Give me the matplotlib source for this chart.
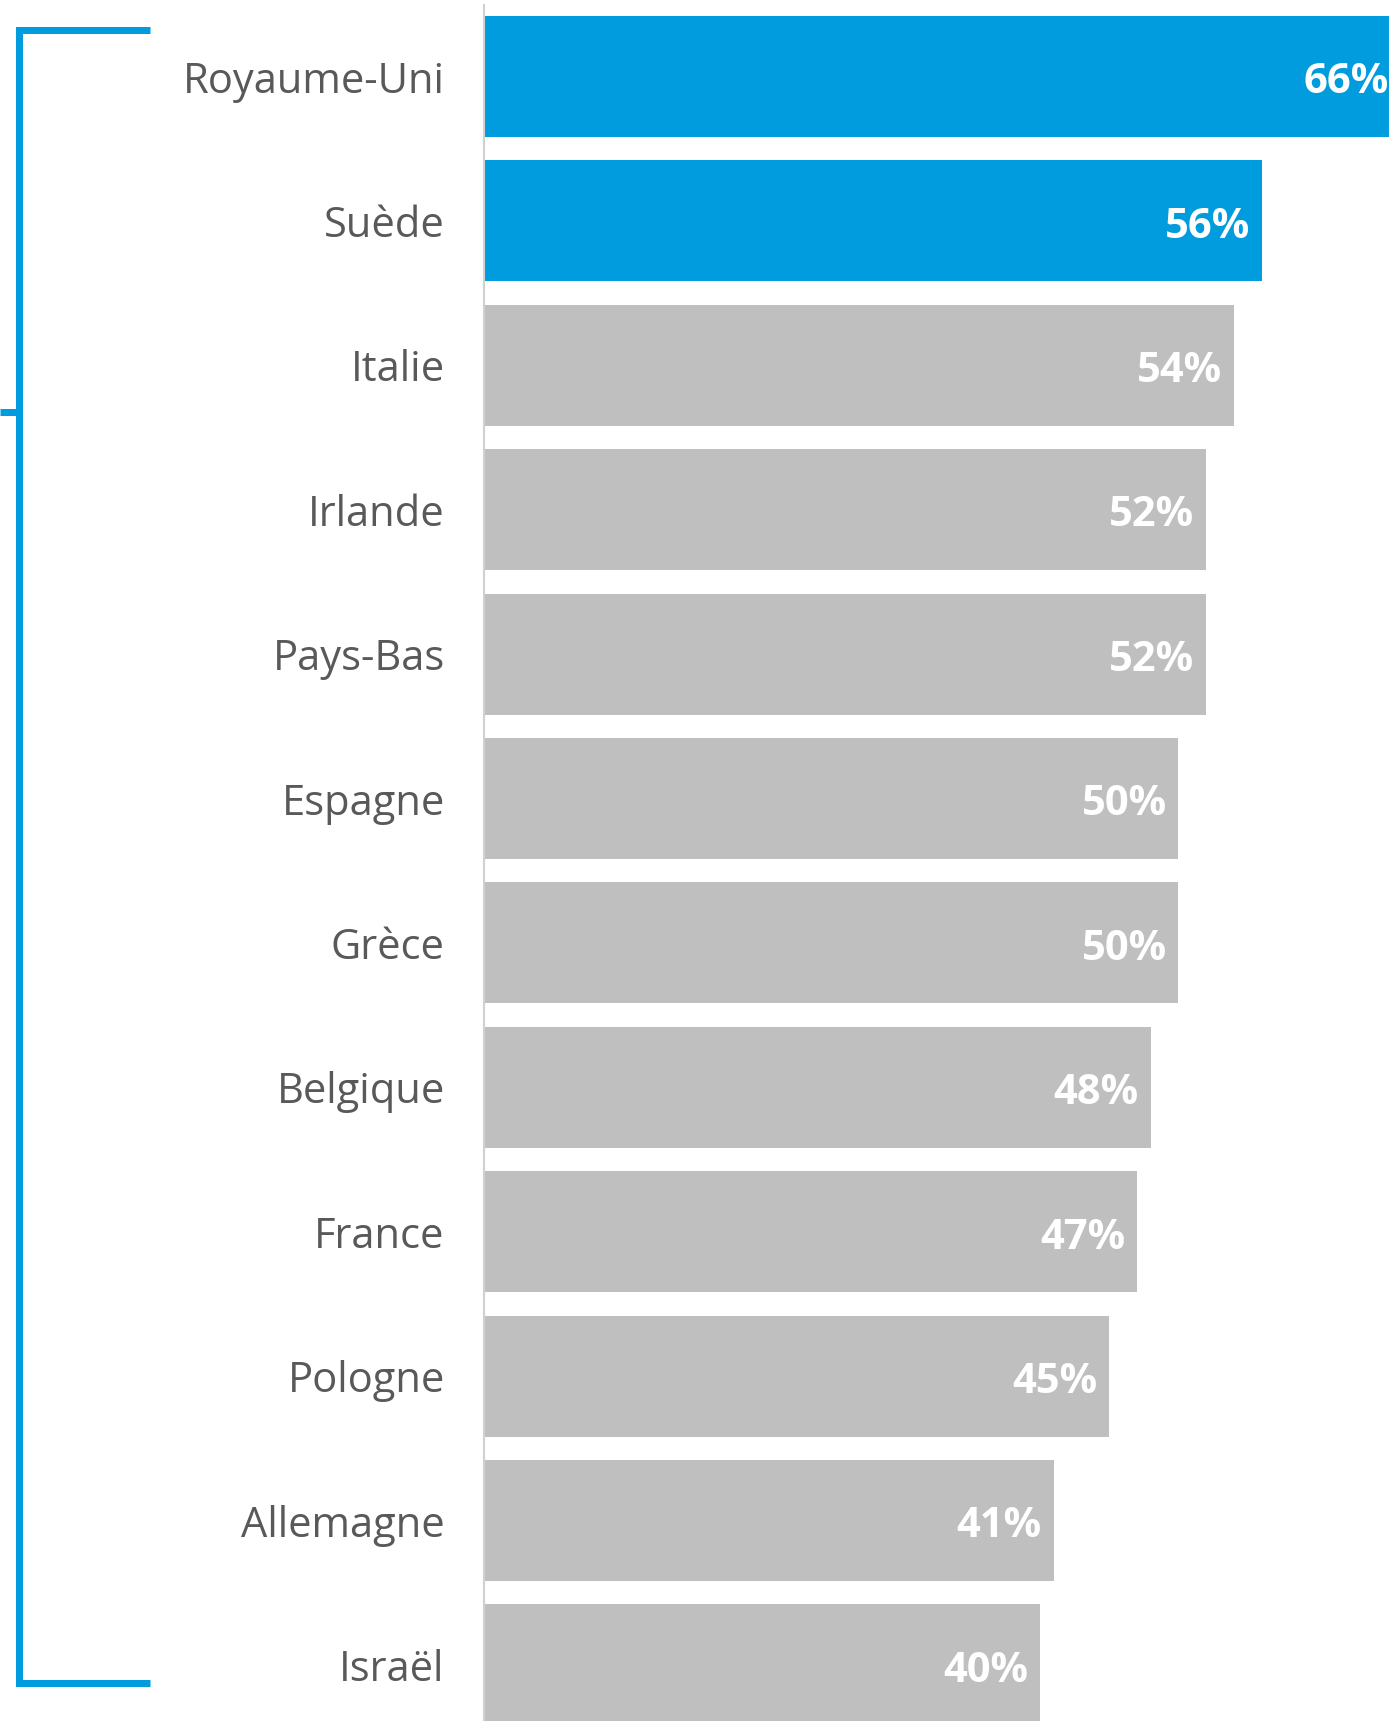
import matplotlib
matplotlib.use("Agg")
import matplotlib.pyplot as plt
from matplotlib.lines import Line2D
import numpy as np

# données
pays = ["Royaume-Uni", "Suède", "Italie", "Irlande", "Pays-Bas", "Espagne",
        "Grèce", "Belgique", "France", "Pologne", "Allemagne", "Israël"]
valeurs = [66, 56, 54, 52, 52, 50, 50, 48, 47, 45, 41, 40]
en_avant = ["Royaume-Uni", "Suède"]

BLEU = "#009cdd"
GRIS = "#bfbfbf"
TEXTE = "#595959"
POLICE = ["Open Sans", "DejaVu Sans"]

W, H = 1389, 1721
fig = plt.figure(figsize=(W / 100, H / 100), dpi=100)
ax = fig.add_axes([485 / W, 0, 1 - 485 / W, 1])

y = np.arange(len(pays))
couleurs = [BLEU if p in en_avant else GRIS for p in pays]
ax.barh(y, valeurs, height=0.838, color=couleurs)

ax.set_xlim(0, (W - 485) / 13.868)
ax.set_ylim(11.388, -0.530)

for s in ["top", "right", "bottom"]:
    ax.spines[s].set_visible(False)
ax.spines["left"].set_color("#d0d0d0")
ax.spines["left"].set_linewidth(1.5)
ax.spines["left"].set_bounds(11.388, -0.495)
ax.spines["left"].set_position(("outward", 1))

# set_position remet les ticks à zéro, donc les libellés viennent après
ax.set_yticks(y)
ax.set_yticklabels(pays, fontsize=30, color=TEXTE, family=POLICE)
ax.tick_params(axis="y", length=0, pad=28)
ax.tick_params(axis="x", bottom=False, labelbottom=False)

# étiquettes de valeur dans les barres
for yi, v in zip(y, valeurs):
    ax.annotate(f"{v}%", xy=(v, yi), xytext=(-8.5, -4.5), textcoords="offset points",
                ha="right", va="center", color="white", fontsize=30,
                fontweight="bold", family=POLICE,
                annotation_clip=False)

# accolade bleue à gauche
def px(x, yy):
    return x / W, 1 - yy / H

lw = 7 * 72 / 100
xs, ys = zip(px(150, 30), px(19, 30), px(19, 1683), px(150, 1683))
fig.add_artist(Line2D(xs, ys, color=BLEU, lw=lw, solid_joinstyle="miter",
                      solid_capstyle="butt"))
xs, ys = zip(px(0, 412), px(19, 412))
fig.add_artist(Line2D(xs, ys, color=BLEU, lw=lw, solid_capstyle="butt"))

fig.savefig("out.png", dpi=100)
